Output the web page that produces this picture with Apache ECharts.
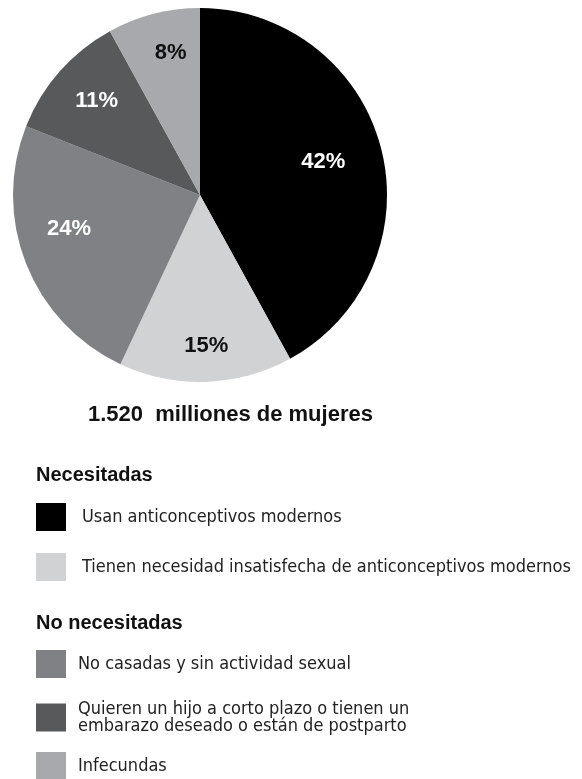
<!DOCTYPE html>
<html>
<head>
<meta charset="utf-8">
<script src="https://cdn.jsdelivr.net/npm/echarts@6/dist/echarts.min.js"></script>
<style>
  html, body { margin: 0; padding: 0; background: #fff; }
  #chart { width: 582px; height: 779px; }
</style>
</head>
<body>
<div id="chart"></div>
<script>
// Women of reproductive age by contraceptive need (shares, %)
const categories = [
  'Usan anticonceptivos modernos',
  'Tienen necesidad insatisfecha de anticonceptivos modernos',
  'No casadas y sin actividad sexual',
  'Quieren un hijo a corto plazo o tienen un\nembarazo deseado o están de postparto',
  'Infecundas'
];
const shares = [42, 15, 24, 11, 8];
const totalLabel = '1.520  milliones de mujeres';
const groupNeeded = 'Necesitadas';
const groupNotNeeded = 'No necesitadas';

// Styling / layout
const sliceColors = ['#000000', '#d1d2d4', '#808185', '#58595b', '#a7a9ac'];
const labelColors = ['#ffffff', '#111111', '#ffffff', '#ffffff', '#111111'];
const labelNudges = [[-10, 1], [2, 13], [-3, -17], [0, -3], [5, -9]];
const legendTops = [503, 553, 650, 700, 752];
const legendTextPad = [11, 11, 7, 7, 7];

const PIE_CX = 200, PIE_CY = 195, PIE_R = 187;
const LABEL_RADIUS = 0.72; // fraction of the radius where slice labels sit

const chart = echarts.init(document.getElementById('chart'), null, { renderer: 'canvas' });

const boldFont = '"Liberation Sans", Arial, Helvetica, sans-serif';
const narrowFont = '"Liberation Sans Narrow", "DejaVu Sans Condensed", sans-serif';

// Radial shift that moves a label from mid-radius out to LABEL_RADIUS
const total = shares.reduce((a, b) => a + b, 0);
let acc = 0;
const labelOffsets = shares.map((v, i) => {
  const mid = (acc + v / 2) / total * 2 * Math.PI;
  acc += v;
  const shift = (LABEL_RADIUS - 0.5) * PIE_R;
  return [
    shift * Math.sin(mid) + labelNudges[i][0],
    -shift * Math.cos(mid) + labelNudges[i][1]
  ];
});

const legends = categories.map((name, i) => ({
  orient: 'vertical',
  left: 36,
  top: legendTops[i],
  padding: 0,
  itemWidth: 30,
  itemHeight: 28,
  icon: 'rect',
  selectedMode: false,
  data: [name],
  textStyle: {
    fontFamily: narrowFont,
    fontSize: 18,
    lineHeight: 17,
    color: '#222',
    padding: [0, 0, 0, legendTextPad[i]]
  }
}));

chart.setOption({
  animation: false,
  title: [
    {
      text: totalLabel, left: 88, top: 404, padding: 0,
      textStyle: { fontFamily: boldFont, fontWeight: 'bold', fontSize: 22, color: '#111' }
    },
    {
      text: groupNeeded, left: 36, top: 465, padding: 0,
      textStyle: { fontFamily: boldFont, fontWeight: 'bold', fontSize: 20, color: '#111' }
    },
    {
      text: groupNotNeeded, left: 36, top: 613, padding: 0,
      textStyle: { fontFamily: boldFont, fontWeight: 'bold', fontSize: 20, color: '#111' }
    }
  ],
  legend: legends,
  series: [{
    type: 'pie',
    center: [PIE_CX, PIE_CY],
    radius: PIE_R,
    startAngle: 90,
    clockwise: true,
    silent: true,
    label: {
      position: 'inside',
      formatter: '{c}%',
      fontFamily: boldFont,
      fontWeight: 'bold',
      fontSize: 22
    },
    labelLine: { show: false },
    itemStyle: { borderWidth: 0 },
    data: categories.map((name, i) => ({
      name,
      value: shares[i],
      itemStyle: { color: sliceColors[i] },
      label: { color: labelColors[i], offset: labelOffsets[i] }
    }))
  }]
});
</script>
</body>
</html>
